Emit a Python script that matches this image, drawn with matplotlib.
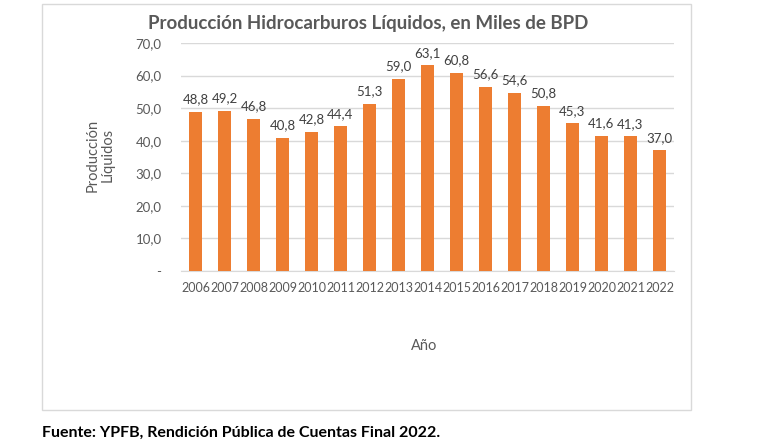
import matplotlib
matplotlib.use("Agg")
import matplotlib.pyplot as plt
from matplotlib.patches import Rectangle

years = [str(y) for y in range(2006, 2023)]
values = [48.8, 49.2, 46.8, 40.8, 42.8, 44.4, 51.3, 59.0, 63.1, 60.8, 56.6, 54.6, 50.8, 45.3, 41.6, 41.3, 37.0]
yticks = [0, 10, 20, 30, 40, 50, 60, 70]

plt.rcParams['font.family'] = ['Lato', 'DejaVu Sans']
grey = '#595959'

fig = plt.figure(figsize=(7.63, 4.42), dpi=100)
fig.patches.append(Rectangle((42/763, 1-410/442), (691-42)/763, (410-4)/442,
                             transform=fig.transFigure, facecolor='none',
                             edgecolor='#D9D9D9', linewidth=1.0, zorder=-1))

ax = fig.add_axes([181/763, 1-271/442, (674-181)/763, (271-43)/442])
ax.set_facecolor('none')
x = list(range(len(years)))
bars = ax.bar(x, values, width=0.45, color='#ED7D31', zorder=3)
for xi, v in zip(x, values):
    ax.text(xi, v + 2.0, f"{v:.1f}".replace('.', ','), ha='center', va='bottom',
            fontsize=9.5, color='#404040')

ax.set_ylim(0, 70)
ax.set_xlim(-0.5, len(years) - 0.5)
ax.set_yticks(yticks)
ax.set_yticklabels(['-' if t == 0 else f"{t:.1f}".replace('.', ',') for t in yticks],
                   fontsize=9.5, color=grey)
ax.set_xticks(x)
ax.set_xticklabels(years, fontsize=9, color=grey)
ax.tick_params(axis='both', length=0)
ax.tick_params(axis='y', pad=14)
ax.tick_params(axis='x', pad=8)
ax.grid(axis='y', color='#D9D9D9', linewidth=1.0, zorder=0)
for s in ['top', 'right', 'left']:
    ax.spines[s].set_visible(False)
ax.spines['bottom'].set_color('#D9D9D9')

fig.text(424/763, 1-346/442, 'Año', ha='center', va='center', fontsize=10.5, color=grey)
fig.text(100/763, 1-155/442, 'Producción\nLíquidos', ha='center', va='center',
         rotation=90, fontsize=10.5, color=grey, linespacing=1.1)
fig.text(368/763, 1-24/442, 'Producción Hidrocarburos Líquidos, en Miles de BPD',
         ha='center', va='center', fontsize=13.5, fontweight='bold', color=grey)
fig.text(42/763, 1-433/442, 'Fuente: YPFB, Rendición Pública de Cuentas Final 2022.',
         ha='left', va='center', fontsize=11.5, fontweight='bold', color='black')

fig.savefig('out.png', dpi=100)
